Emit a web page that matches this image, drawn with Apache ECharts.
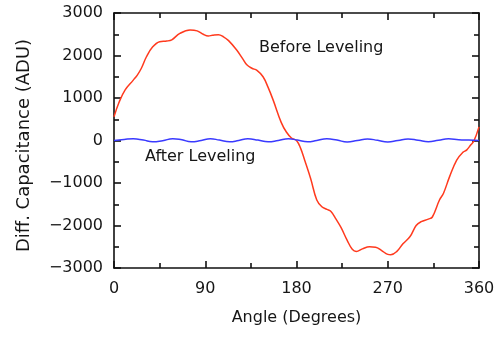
<!DOCTYPE html>
<html>
<head>
<meta charset="utf-8">
<script src="https://cdn.jsdelivr.net/npm/echarts@6/dist/echarts.min.js"></script>
<style>
  html, body { margin: 0; padding: 0; background: #fff; }
  #chart { width: 502px; height: 337px; }
</style>
</head>
<body>
<div id="chart"></div>
<script>
// Angle (degrees) and differential capacitance (ADU) before leveling
var beforeAngles = [0, 5, 11, 19, 23, 27, 32, 38, 45, 52, 57, 65, 75, 82, 88, 93, 97, 103, 108, 113,
  121, 127, 131, 136, 141, 147, 152, 157, 165, 170, 175, 180, 184, 188, 194, 200, 205, 210, 214,
  219, 224, 230, 235, 239, 245, 252, 258, 264, 270, 273, 279, 285, 292, 298, 303, 310, 314, 321,
  325, 331, 338, 344, 348, 352, 355, 360];
var beforeValues = [560, 900, 1190, 1420, 1540, 1700, 1970, 2200, 2325, 2340, 2370, 2520, 2600, 2580, 2500, 2460, 2475, 2490, 2440, 2350,
  2130, 1920, 1780, 1700, 1650, 1500, 1250, 950, 420, 200, 60, 0, -180, -460, -900, -1400, -1560, -1620, -1670,
  -1850, -2050, -2350, -2560, -2610, -2550, -2500, -2510, -2590, -2680, -2690, -2610, -2430, -2260, -2000, -1910, -1850, -1800, -1400,
  -1240, -850, -460, -280, -220, -100, -10, 320];

// Angle (degrees) and residual after leveling
var afterAngles = [0, 10, 19, 29, 38, 48, 58, 67, 76, 86, 95, 104, 114, 123, 132, 142, 152, 162, 172,
  181, 191, 200, 210, 220, 230, 240, 250, 260, 270, 280, 290, 300, 310, 320, 330, 340, 350, 360];
var afterValues = [0, 25, 40, 10, -30, -5, 40, 15, -30, 0, 40, 10, -30, 0, 40, 10, -30, 0, 40,
  10, -30, 0, 40, 10, -35, 0, 35, 5, -35, 0, 35, 5, -30, 5, 40, 20, 10, 0];

var xTicks = [0, 90, 180, 270, 360];
var yTicks = [-3000, -2000, -1000, 0, 1000, 2000, 3000];

function pairs(xs, ys) {
  return xs.map(function (x, i) { return [x, ys[i]]; });
}

var FONT = '"DejaVu Sans", Verdana, sans-serif';
var TEXT = '#161616';
var axisLineStyle = { color: '#111', width: 1.6 };

var chart = echarts.init(document.getElementById('chart'), null, { renderer: 'canvas' });

chart.setOption({
  animation: false,
  backgroundColor: '#fff',
  grid: { left: 114, right: 23, top: 13, bottom: 69, show: false },
  xAxis: [{
    type: 'value', min: xTicks[0], max: xTicks[xTicks.length - 1], interval: 90,
    position: 'bottom',
    axisLine: { show: true, onZero: false, lineStyle: axisLineStyle },
    axisTick: { show: true, inside: true, length: 7, lineStyle: axisLineStyle },
    minorTick: { show: true, splitNumber: 2, length: 5, lineStyle: axisLineStyle },
    splitLine: { show: false },
    axisLabel: { fontFamily: FONT, fontSize: 16, color: TEXT, margin: 13 },
    name: 'Angle (Degrees)', nameLocation: 'middle', nameGap: 42,
    nameTextStyle: { fontFamily: FONT, fontSize: 16, color: TEXT }
  }, {
    type: 'value', min: xTicks[0], max: xTicks[xTicks.length - 1], interval: 90,
    position: 'top',
    axisLine: { show: true, onZero: false, lineStyle: axisLineStyle },
    axisTick: { show: true, inside: true, length: 7, lineStyle: axisLineStyle },
    minorTick: { show: true, splitNumber: 2, length: 5, lineStyle: axisLineStyle },
    splitLine: { show: false },
    axisLabel: { show: false }
  }],
  yAxis: [{
    type: 'value', min: yTicks[0], max: yTicks[yTicks.length - 1], interval: 1000,
    position: 'left',
    axisLine: { show: true, onZero: false, lineStyle: axisLineStyle },
    axisTick: { show: true, inside: true, length: 7, lineStyle: axisLineStyle },
    minorTick: { show: true, splitNumber: 2, length: 5, lineStyle: axisLineStyle },
    splitLine: { show: false },
    axisLabel: {
      fontFamily: FONT, fontSize: 16, color: TEXT, margin: 11,
      formatter: function (v) { return String(v).replace('-', '\u2212'); }
    },
    name: 'Diff. Capacitance (ADU)', nameLocation: 'middle', nameGap: 81,
    nameTextStyle: { fontFamily: FONT, fontSize: 18, color: TEXT, padding: [0, 10, 0, 0] }
  }, {
    type: 'value', min: yTicks[0], max: yTicks[yTicks.length - 1], interval: 1000,
    position: 'right',
    axisLine: { show: true, onZero: false, lineStyle: axisLineStyle },
    axisTick: { show: true, inside: true, length: 7, lineStyle: axisLineStyle },
    minorTick: { show: true, splitNumber: 2, length: 5, lineStyle: axisLineStyle },
    splitLine: { show: false },
    axisLabel: { show: false }
  }],
  series: [{
    name: 'Before Leveling', type: 'line', xAxisIndex: 0, yAxisIndex: 0,
    data: pairs(beforeAngles, beforeValues),
    smooth: 0.4, showSymbol: false,
    lineStyle: { color: '#ff3a1e', width: 1.5 }
  }, {
    name: 'After Leveling', type: 'line', xAxisIndex: 0, yAxisIndex: 0,
    data: pairs(afterAngles, afterValues),
    smooth: 0.5, showSymbol: false,
    lineStyle: { color: '#3a3aff', width: 1.5 }
  }],
  graphic: [{
    type: 'text', left: 259, top: 40,
    style: { text: 'Before Leveling', fontFamily: FONT, fontSize: 16, fill: TEXT }
  }, {
    type: 'text', left: 145, top: 149,
    style: { text: 'After Leveling', fontFamily: FONT, fontSize: 16, fill: TEXT }
  }]
});
</script>
</body>
</html>
